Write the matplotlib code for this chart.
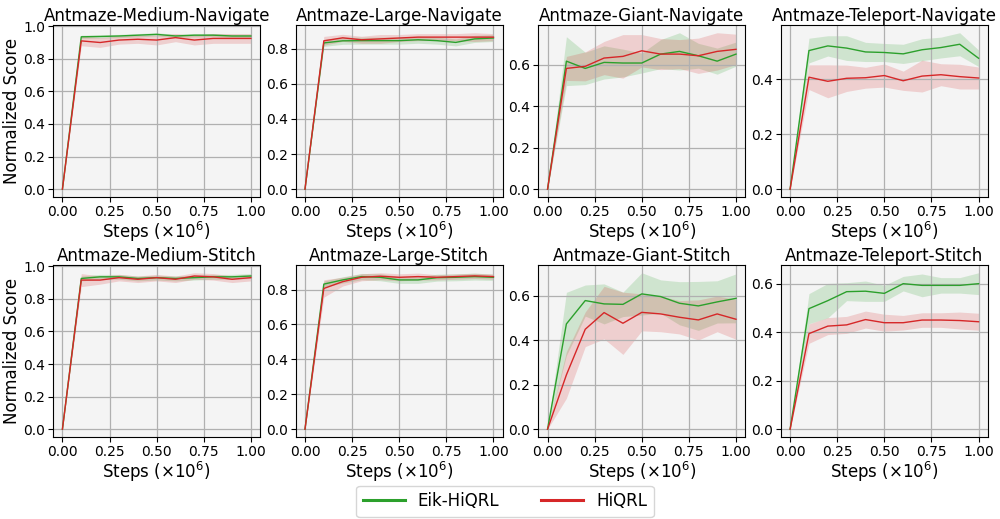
import numpy as np
import matplotlib.pyplot as plt
from matplotlib.lines import Line2D

steps = [0.0, 0.1, 0.2, 0.3, 0.4, 0.5, 0.6, 0.7, 0.8, 0.9, 1.0]

titles = [
    "Antmaze-Medium-Navigate", "Antmaze-Large-Navigate",
    "Antmaze-Giant-Navigate", "Antmaze-Teleport-Navigate",
    "Antmaze-Medium-Stitch", "Antmaze-Large-Stitch",
    "Antmaze-Giant-Stitch", "Antmaze-Teleport-Stitch",
]

# Eik-HiQRL mean / std per task
eik_mean = [
    [0, 0.935, 0.937, 0.940, 0.945, 0.950, 0.940, 0.945, 0.945, 0.940, 0.940],
    [0, 0.832, 0.844, 0.845, 0.845, 0.845, 0.850, 0.845, 0.835, 0.855, 0.860],
    [0, 0.617, 0.582, 0.611, 0.608, 0.608, 0.651, 0.664, 0.643, 0.617, 0.651],
    [0, 0.505, 0.522, 0.514, 0.500, 0.498, 0.493, 0.508, 0.516, 0.528, 0.477],
    [0, 0.925, 0.935, 0.935, 0.925, 0.930, 0.925, 0.930, 0.935, 0.935, 0.940],
    [0, 0.831, 0.855, 0.874, 0.870, 0.855, 0.855, 0.868, 0.870, 0.874, 0.870],
    [0, 0.473, 0.578, 0.563, 0.561, 0.608, 0.596, 0.566, 0.554, 0.572, 0.588],
    [0, 0.497, 0.530, 0.567, 0.569, 0.560, 0.600, 0.593, 0.593, 0.593, 0.600],
]
eik_std = [
    [0, 0.010, 0.010, 0.010, 0.010, 0.010, 0.010, 0.010, 0.010, 0.010, 0.010],
    [0, 0.020, 0.020, 0.020, 0.020, 0.020, 0.020, 0.020, 0.020, 0.020, 0.020],
    [0, 0.118, 0.078, 0.080, 0.067, 0.048, 0.070, 0.090, 0.060, 0.063, 0.058],
    [0, 0.045, 0.037, 0.045, 0.035, 0.033, 0.035, 0.040, 0.038, 0.042, 0.030],
    [0, 0.015, 0.015, 0.015, 0.015, 0.015, 0.015, 0.015, 0.015, 0.015, 0.015],
    [0, 0.018, 0.018, 0.018, 0.020, 0.020, 0.020, 0.020, 0.020, 0.020, 0.018],
    [0, 0.142, 0.070, 0.090, 0.055, 0.095, 0.075, 0.097, 0.110, 0.095, 0.110],
    [0, 0.062, 0.071, 0.037, 0.042, 0.033, 0.030, 0.047, 0.032, 0.032, 0.045],
]

# HiQRL mean / std per task
hiq_mean = [
    [0, 0.910, 0.900, 0.915, 0.920, 0.915, 0.930, 0.915, 0.925, 0.925, 0.925],
    [0, 0.844, 0.861, 0.850, 0.855, 0.860, 0.865, 0.865, 0.865, 0.865, 0.865],
    [0, 0.582, 0.592, 0.632, 0.640, 0.667, 0.651, 0.651, 0.643, 0.664, 0.674],
    [0, 0.408, 0.393, 0.404, 0.406, 0.414, 0.395, 0.412, 0.417, 0.410, 0.405],
    [0, 0.915, 0.915, 0.930, 0.920, 0.930, 0.920, 0.940, 0.935, 0.920, 0.930],
    [0, 0.806, 0.845, 0.870, 0.876, 0.870, 0.874, 0.870, 0.874, 0.878, 0.874],
    [0, 0.244, 0.449, 0.524, 0.476, 0.525, 0.518, 0.503, 0.491, 0.518, 0.494],
    [0, 0.394, 0.425, 0.430, 0.452, 0.439, 0.439, 0.450, 0.450, 0.448, 0.443],
]
hiq_std = [
    [0, 0.030, 0.030, 0.025, 0.025, 0.030, 0.025, 0.030, 0.030, 0.030, 0.030],
    [0, 0.025, 0.020, 0.020, 0.025, 0.020, 0.020, 0.020, 0.020, 0.025, 0.020],
    [0, 0.058, 0.070, 0.080, 0.105, 0.078, 0.075, 0.070, 0.085, 0.090, 0.073],
    [0, 0.045, 0.060, 0.048, 0.038, 0.042, 0.035, 0.058, 0.040, 0.045, 0.040],
    [0, 0.040, 0.025, 0.020, 0.020, 0.020, 0.020, 0.020, 0.020, 0.020, 0.020],
    [0, 0.050, 0.025, 0.020, 0.020, 0.020, 0.020, 0.015, 0.015, 0.015, 0.015],
    [0, 0.105, 0.078, 0.118, 0.140, 0.083, 0.080, 0.075, 0.090, 0.080, 0.090],
    [0, 0.040, 0.035, 0.035, 0.035, 0.035, 0.030, 0.030, 0.030, 0.035, 0.035],
]

green = "tab:green"
red = "tab:red"

fig, axes = plt.subplots(2, 4, figsize=(10, 5.19), dpi=100)
fig.subplots_adjust(left=0.053, right=0.988, top=0.952, bottom=0.158,
                    wspace=0.17, hspace=0.395)

x = np.array(steps)
for i, ax in enumerate(axes.flat):
    for mean, std, c in [(eik_mean[i], eik_std[i], green),
                         (hiq_mean[i], hiq_std[i], red)]:
        m = np.array(mean)
        s = np.array(std)
        ax.fill_between(x, m - s, m + s, color=c, alpha=0.18, linewidth=0)
        ax.plot(x, m, color=c, linewidth=1.0)
    ax.set_facecolor("#f4f4f4")
    ax.grid(True, color="#b0b0b0", linewidth=0.9)
    ax.set_xticks([0, 0.25, 0.5, 0.75, 1.0])
    ax.tick_params(labelsize=10, pad=2)
    ax.set_title(titles[i], fontsize=12, pad=3)
    ax.set_xlabel(r"Steps ($\times10^6$)", fontsize=12, labelpad=1)
    if i % 4 == 0:
        ax.set_ylabel("Normalized Score", fontsize=12, labelpad=2)

handles = [Line2D([], [], color=green, linewidth=2.2),
           Line2D([], [], color=red, linewidth=2.2)]
fig.legend(handles, ["Eik-HiQRL", "HiQRL"], loc="lower center", ncol=2,
           fontsize=12, bbox_to_anchor=(0.505, -0.012), columnspacing=2.5,
           handlelength=2.5)

fig.savefig("out.png", dpi=100)
